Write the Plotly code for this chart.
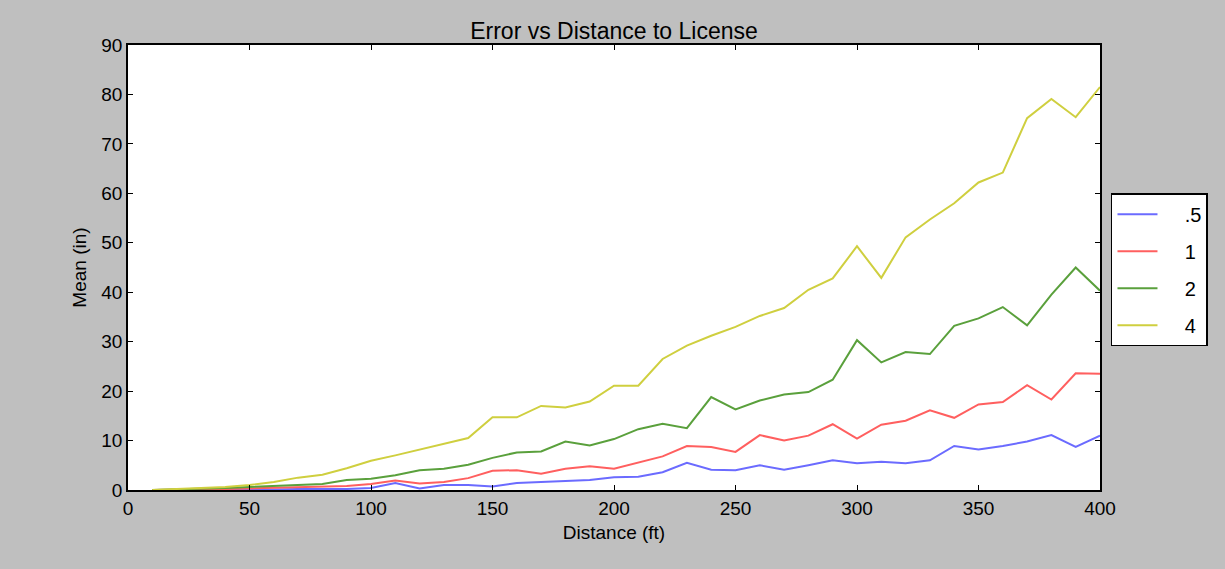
import plotly.graph_objects as go

distance = [10, 20, 30, 40, 50, 60, 70, 80, 90, 100,
            110, 120, 130, 140, 150, 160, 170, 180, 190, 200,
            210, 220, 230, 240, 250, 260, 270, 280, 290, 300,
            310, 320, 330, 340, 350, 360, 370, 380, 390, 400]

mean_05 = [0.0, 0.0, 0.0, 0.1, 0.1, 0.1, 0.2, 0.2, 0.2, 0.4,
           1.4, 0.3, 1.0, 1.0, 0.7, 1.4, 1.6, 1.8, 2.0, 2.6,
           2.7, 3.6, 5.5, 4.1, 4.0, 5.0, 4.1, 5.0, 6.0, 5.4,
           5.7, 5.4, 6.0, 8.9, 8.2, 8.9, 9.8, 11.1, 8.7, 11.0]

mean_1 = [0.0, 0.0, 0.1, 0.2, 0.3, 0.4, 0.5, 0.6, 0.8, 1.2,
          1.9, 1.3, 1.6, 2.4, 3.9, 4.0, 3.3, 4.3, 4.8, 4.3,
          5.5, 6.8, 8.9, 8.7, 7.7, 11.1, 10.0, 11.0, 13.3, 10.4,
          13.2, 14.0, 16.1, 14.6, 17.3, 17.8, 21.2, 18.3, 23.6, 23.5]

mean_2 = [0.0, 0.1, 0.2, 0.4, 0.6, 0.8, 1.0, 1.2, 2.0, 2.3,
          3.0, 4.0, 4.3, 5.1, 6.5, 7.6, 7.8, 9.8, 9.0, 10.3,
          12.3, 13.4, 12.5, 18.8, 16.3, 18.1, 19.3, 19.8, 22.3, 30.3,
          25.8, 27.9, 27.5, 33.2, 34.7, 37.0, 33.3, 39.5, 45.0, 40.3]

mean_4 = [0.0, 0.2, 0.4, 0.6, 1.0, 1.6, 2.5, 3.1, 4.4, 5.9,
          7.0, 8.2, 9.3, 10.5, 14.7, 14.7, 17.0, 16.7, 17.9, 21.1,
          21.1, 26.5, 29.2, 31.2, 33.0, 35.2, 36.8, 40.5, 42.8, 49.3,
          42.9, 51.1, 54.7, 58.0, 62.2, 64.2, 75.2, 79.1, 75.4, 81.5]

series_names = [".5", "1", "2", "4"]
series_values = [mean_05, mean_1, mean_2, mean_4]
series_colors = ["#6b6bff", "#ff5f5f", "#5aa03c", "#cfcf3f"]

x_ticks = [0, 50, 100, 150, 200, 250, 300, 350, 400]
y_ticks = [0, 10, 20, 30, 40, 50, 60, 70, 80, 90]

fig = go.Figure()
for name, vals, col in zip(series_names, series_values, series_colors):
    fig.add_trace(go.Scatter(x=distance, y=vals, mode="lines", name="    " + name,
                             legendgroup=name,
                             line=dict(color=col, width=2)))

font_family = "Liberation Sans, Arial, sans-serif"
fig.update_layout(
    width=1225, height=569,
    paper_bgcolor="#bfbfbf",
    plot_bgcolor="#ffffff",
    margin=dict(l=128, r=125, t=45, b=79),
    title=dict(text="Error vs Distance to License", x=0.5, xanchor="center",
               xref="paper", y=1 - 31 / 569, yref="container", yanchor="middle",
               font=dict(family=font_family, size=23, color="#000000")),
    font=dict(family=font_family, color="#000000"),
    legend=dict(x=1.0113, y=0.667, xanchor="left", yanchor="top",
                bgcolor="#ffffff", bordercolor="#000000", borderwidth=1.5,
                font=dict(family=font_family, size=20, color="#000000"),
                tracegroupgap=8, itemwidth=40),
    showlegend=True,
)
fig.update_xaxes(range=[0, 400], tickvals=x_ticks, ticktext=[str(v) for v in x_ticks],
                 showgrid=False, zeroline=False, showline=True, linecolor="#000000",
                 linewidth=1.5, mirror="ticks", ticks="inside", ticklen=5,
                 tickcolor="#000000", tickfont=dict(size=19),
                 title=dict(text="Distance (ft)", font=dict(size=19), standoff=8))
fig.update_yaxes(range=[0, 90], tickvals=y_ticks, ticktext=[str(v) for v in y_ticks],
                 showgrid=False, zeroline=False, showline=True, linecolor="#000000",
                 linewidth=1.5, mirror="ticks", ticks="inside", ticklen=5,
                 tickcolor="#000000", tickfont=dict(size=19),
                 title=dict(text="Mean (in)", font=dict(size=19), standoff=10))

fig.write_html("out.html", config={"displayModeBar": False},
               post_script="document.body.style.margin='0';document.body.style.overflow='hidden';")
